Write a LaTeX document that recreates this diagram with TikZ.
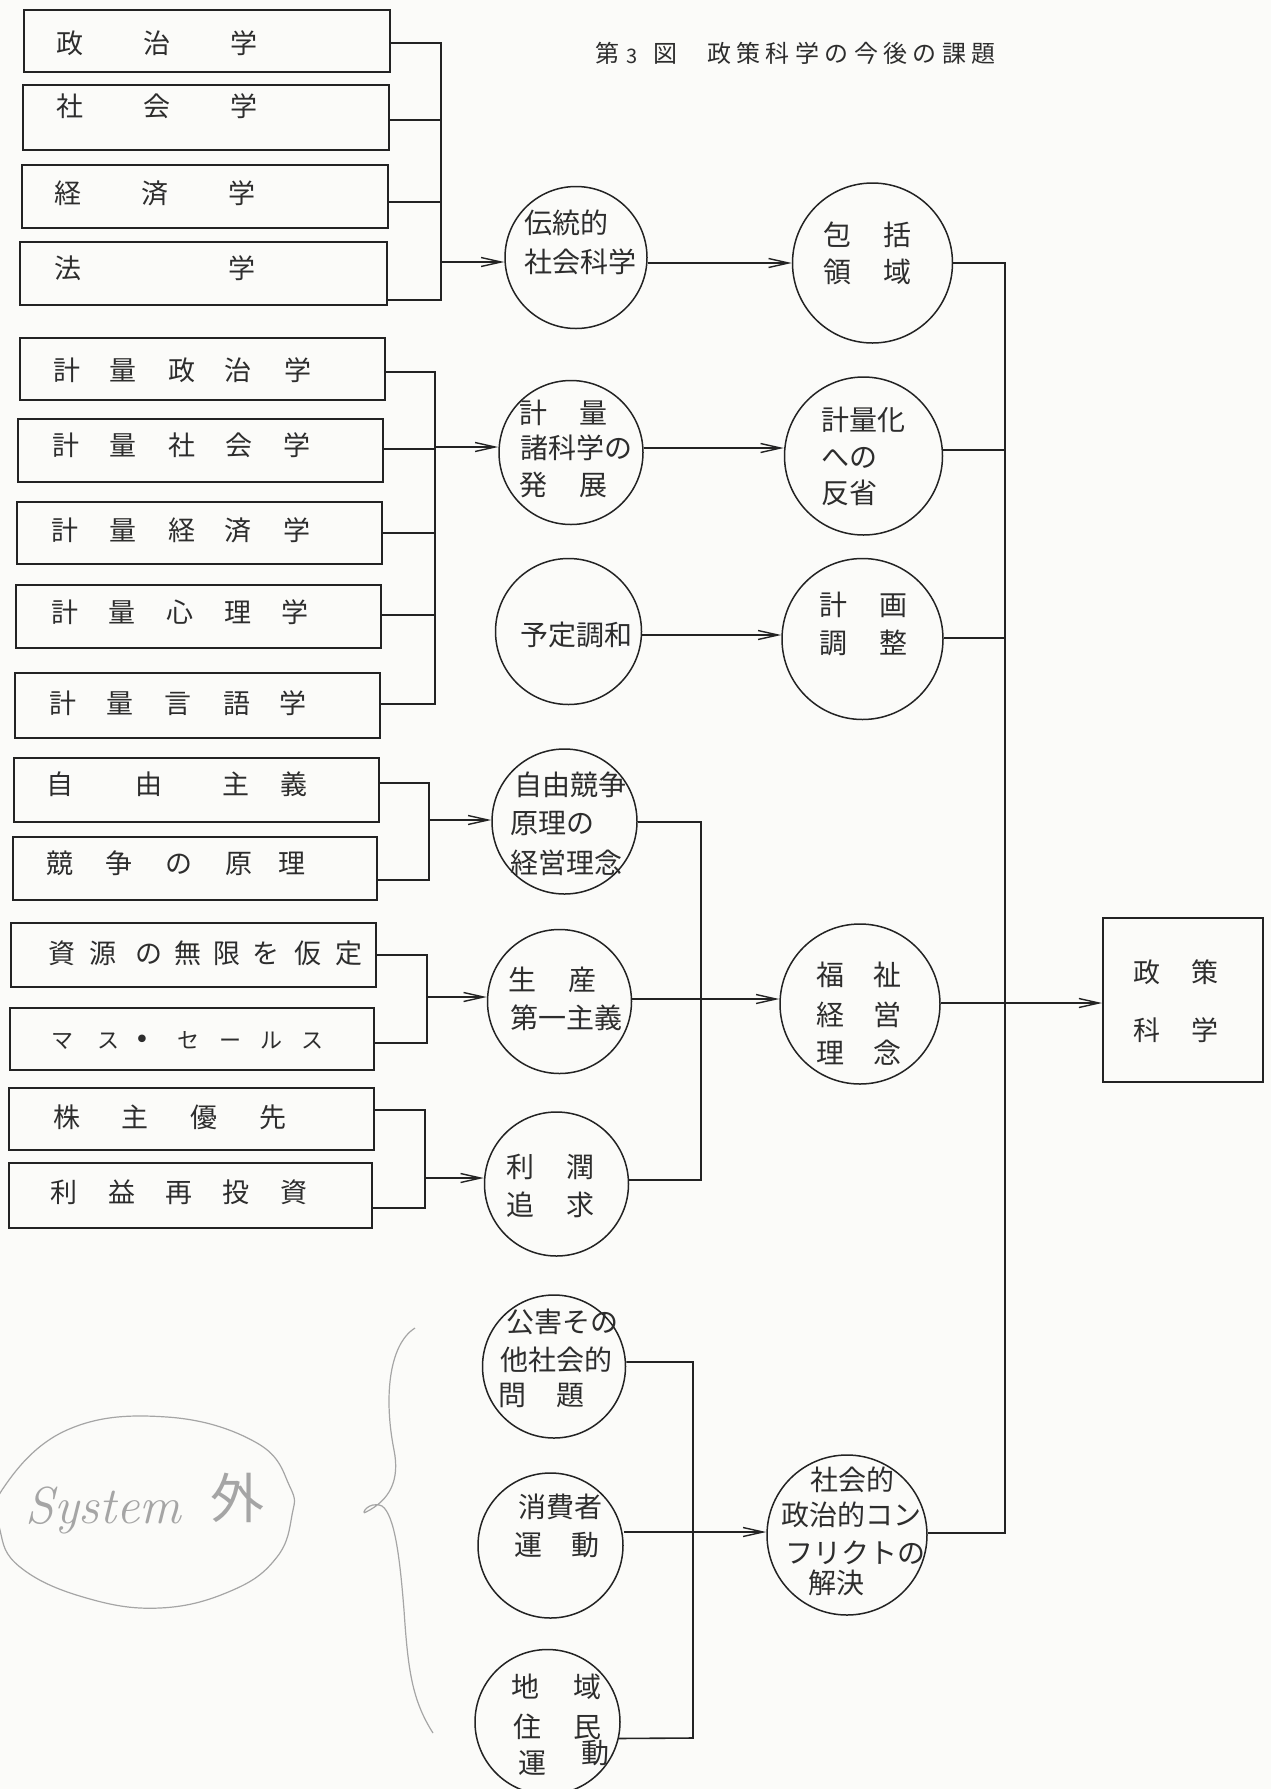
\documentclass[tikz,border=0pt]{standalone}
\usepackage{fontspec}
\newfontfamily\cjk{Noto Sans CJK JP}
\newfontfamily\djv{DejaVu Sans}
\usetikzlibrary{arrows.meta}
\definecolor{ink}{RGB}{35,35,35}
\definecolor{txtc}{RGB}{45,45,45}
\definecolor{pencil}{RGB}{165,165,165}
\definecolor{paper}{RGB}{251,251,249}
\tikzset{
  ln/.style={draw=ink, line width=0.8pt},
  ar/.style={ln, -{Straight Barb[length=10pt,width=4.5pt,line width=0.7pt]}},
  bx/.style={draw=ink, line width=0.9pt, rectangle, inner sep=0pt},
  cir/.style={draw=ink, line width=0.75pt, circle, inner sep=0pt},
  txt/.style={font=\cjk\fontsize{13.5pt}{16pt}\selectfont, inner sep=0pt, text height=11.2pt, text depth=0.95pt, text=txtc},
  ctx/.style={font=\cjk\fontsize{14pt}{16pt}\selectfont, inner sep=0pt, text height=11.6pt, text depth=1pt, text=txtc},
  txtk/.style={txt, font=\cjk\fontsize{11pt}{13pt}\selectfont, text height=9.1pt, text depth=0.8pt},
  ttl/.style={font=\cjk\fontsize{12pt}{14pt}\selectfont, inner sep=0pt, text height=10pt, text depth=0.85pt, text=txtc},
  hand/.style={draw=pencil, line width=0.6pt},
}
\newcommand\mkbox[5]{\node[bx, minimum width={(#4-#2)*0.5pt}, minimum height={(#5-#3)*0.5pt}] (#1) at ({(#2+#4)/2},{(#3+#5)/2}) {};}
\newcommand\mkcir[4]{\node[cir, minimum size={2*#4*0.5pt}] (#1) at (#2,#3) {};}
\newcommand\rowc[4][txt]{\foreach \xx/\cc [count=\kk] in {#4} {\node[#1] (#2-\kk) at (\xx,#3) {\cc};}}
\begin{document}
\begin{tikzpicture}[x=0.5pt,y=-0.5pt]
\fill[paper] (0,0) rectangle (1271,1789);
\useasboundingbox (0,0) rectangle (1271,1789);

% ---------- title ----------
\node[ttl] (tt1) at (607,53) {第};
\node[ttl, font=\cjk\fontsize{10pt}{12pt}\selectfont] (tt2) at (632,54) {3};
\node[ttl] (tt3) at (665,53) {図};
\rowc[ttl]{tt}{53}{719/政,748.4/策,777.8/科,807.2/学,836.6/の,866/今,895.4/後,924.8/の,954.2/課,983.6/題}

% ---------- boxes ----------
\mkbox{A1}{24}{10}{390}{72}
\mkbox{A2}{23}{85}{389}{150}
\mkbox{A3}{22}{165}{388}{228}
\mkbox{A4}{20}{242}{387}{305}
\mkbox{B1}{20}{338}{385}{400}
\mkbox{B2}{18}{419}{383}{482}
\mkbox{B3}{17}{502}{382}{564}
\mkbox{B4}{16}{585}{381}{648}
\mkbox{B5}{15}{673}{380}{738}
\mkbox{F1}{14}{758}{379}{822}
\mkbox{F2}{13}{837}{377}{900}
\mkbox{G1}{11}{923}{376}{987}
\mkbox{G2}{10}{1008}{374}{1070}
\mkbox{H1}{9}{1088}{374}{1150}
\mkbox{H2}{9}{1163}{372}{1228}
\mkbox{P}{1103}{918}{1263}{1082}

\rowc{tA1}{43}{70/政,157/治,244/学}
\rowc{tA2}{106}{70/社,157/会,244/学}
\rowc{tA3}{193}{68/経,155/済,242/学}
\rowc{tA4}{268}{68/法,242/学}
\rowc{tB1}{370}{67/計,123/量,182/政,238/治,298/学}
\rowc{tB2}{445}{66/計,123/量,182/社,239/会,297/学}
\rowc{tB3}{530}{65/計,123/量,182/経,238/済,297/学}
\rowc{tB4}{612}{65/計,122/量,180/心,238/理,295/学}
\rowc{tB5}{703}{63/計,120/量,178/言,237/語,293/学}
\rowc{tF1}{784}{60/自,149/由,236/主,294/義}
\rowc{tF2}{863}{60/競,119/争,179/の,239/原,292/理}
\rowc{tG1}{953}{62/資,103/源,149/の,188/無,227/限,266/を,308/仮,349/定}
\rowc[txtk]{tG2}{1040}{62/マ,108/ス,142/{\djv\fontsize{13pt}{14pt}\selectfont •},188/セ,230/ー,271/ル,312/ス}
\rowc{tH1}{1117}{67/株,135/主,204/優,273/先}
\rowc{tH2}{1192}{64/利,122/益,179/再,236/投,294/資}
\rowc{tP1}{972}{1147/政,1205/策}
\rowc{tP2}{1030}{1147/科,1205/学}

% ---------- circles ----------
\mkcir{C1}{576}{257.5}{71}
\mkcir{D1}{872.5}{263}{80}
\mkcir{C2}{571}{452.5}{72}
\mkcir{D2}{863.5}{456}{79}
\mkcir{C3}{568.5}{631.5}{73}
\mkcir{D3}{862.5}{639}{80.5}
\mkcir{C4}{564.5}{821.5}{72.5}
\mkcir{C5}{559.5}{1001.5}{72}
\mkcir{D4}{860}{1004}{80}
\mkcir{C6}{556.5}{1184}{72}
\mkcir{E1}{554}{1366.5}{71.5}
\mkcir{E2}{550.5}{1545.5}{72.5}
\mkcir{E3}{547.5}{1722}{72.5}
\mkcir{D5}{847}{1535}{80}

% circle texts
\node[ctx,anchor=west] (tC1a) at (524,223) {伝統的};
\node[ctx,anchor=west] (tC1b) at (524,262) {社会科学};
\rowc[ctx]{tD1a}{235}{837/包,897/括}
\rowc[ctx]{tD1b}{272}{837/領,897/域}
\rowc[ctx]{tC2a}{413}{533/計,593/量}
\node[ctx,anchor=west] (tC2b) at (520,448) {諸科学の};
\rowc[ctx]{tC2c}{485}{533/発,593/展}
\node[ctx,anchor=west] (tD2a) at (821,420) {計量化};
\node[ctx,anchor=west] (tD2b) at (821,457) {への};
\node[ctx,anchor=west] (tD2c) at (821,493) {反省};
\node[ctx,anchor=west] (tC3) at (520,635) {予定調和};
\rowc[ctx]{tD3a}{605}{833/計,893/画}
\rowc[ctx]{tD3b}{643}{833/調,893/整}
\node[ctx,anchor=west] (tC4a) at (514,785) {自由競争};
\node[ctx,anchor=west] (tC4b) at (510,823) {原理の};
\node[ctx,anchor=west] (tC4c) at (510,863) {経営理念};
\rowc[ctx]{tC5a}{980}{522/生,582/産}
\node[ctx,anchor=west] (tC5b) at (510,1018) {第一主義};
\rowc[ctx]{tD4a}{975}{830/福,887/祉}
\rowc[ctx]{tD4b}{1015}{830/経,887/営}
\rowc[ctx]{tD4c}{1053}{830/理,887/念}
\rowc[ctx]{tC6a}{1167}{520/利,580/潤}
\rowc[ctx]{tC6b}{1205}{520/追,580/求}
\node[ctx,anchor=west] (tE1a) at (506,1322) {公害その};
\node[ctx,anchor=west] (tE1b) at (500,1360) {他社会的};
\rowc[ctx]{tE1c}{1395}{512/問,570/題}
\node[ctx,anchor=west] (tE2a) at (518,1507) {消費者};
\rowc[ctx]{tE2b}{1545}{528/運,585/動}
\rowc[ctx]{tE3a}{1687}{525/地,587/域}
\rowc[ctx]{tE3b}{1727}{527/住,587/民}
\node[ctx] (tE3c) at (532,1763) {運};
\node[ctx] (tE3d) at (595,1753) {動};
\node[ctx,anchor=west] (tD5a) at (810,1480) {社会的};
\node[ctx,anchor=west] (tD5b) at (781,1515) {政治的コン};
\node[ctx,anchor=west] (tD5c) at (785,1553) {フリクトの};
\node[ctx,anchor=west] (tD5d) at (808,1583) {解決};

% ---------- junction points ----------
\coordinate (jA) at (441,262);
\coordinate (jB) at (435,447);
\coordinate (jC) at (429,820);
\coordinate (jD) at (427,997);
\coordinate (jE) at (425,1178);
\coordinate (jM) at (701,999);
\coordinate (jN) at (693,1532);
\coordinate (R1) at (1005,263);
\coordinate (R2) at (1005,1533);

% ---------- connectors ----------
\draw[ln] (A1.east |- 0,43) -| (jA |- 0,300) -- (A4.east |- 0,300);
\draw[ln] (A2.east |- 0,120) -- (jA |- 0,120);
\draw[ln] (A3.east |- 0,202) -- (jA |- 0,202);
\draw[ar] (jA) -- (C1.west |- jA);

\draw[ln] (B1.east |- 0,372) -| (jB |- 0,704) -- (B5.east |- 0,704);
\draw[ln] (B2.east |- 0,449) -- (jB |- 0,449);
\draw[ln] (B3.east |- 0,533) -- (jB |- 0,533);
\draw[ln] (B4.east |- 0,615) -- (jB |- 0,615);
\draw[ar] (jB) -- (C2.west |- jB);

\draw[ln] (F1.east |- 0,783) -| (jC |- 0,880) -- (F2.east |- 0,880);
\draw[ar] (jC) -- (C4.west |- jC);
\draw[ln] (G1.east |- 0,955) -| (jD |- 0,1043) -- (G2.east |- 0,1043);
\draw[ar] (jD) -- (C5.west |- jD);
\draw[ln] (H1.east |- 0,1110) -| (jE |- 0,1208) -- (H2.east |- 0,1208);
\draw[ar] (jE) -- (C6.west |- jE);

\draw[ar] (C1.east |- 0,263) -- (D1.west |- 0,263);
\draw[ar] (C2.east |- 0,448) -- (D2.west |- 0,448);
\draw[ar] (C3.east |- 0,635) -- (D3.west |- 0,635);

\draw[ln] (C4.east |- 0,822) -| (jM |- 0,1180) -- (C6.east |- 0,1180);
\draw[ar] (C5.east |- jM) -- (D4.west |- jM);

\draw[ln] (E1.east |- 0,1362) -| (jN |- 0,1738) -- (E3.-13);
\draw[ar] (E2.east |- jN) -- (D5.west |- jN);

\draw[ln] (D1.east |- R1) -- (R1) -- (R2) -- (D5.east |- R2);
\draw[ln] (D2.east |- 0,450) -- (R1 |- 0,450);
\draw[ln] (D3.east |- 0,638) -- (R1 |- 0,638);
\draw[ar] (D4.east |- 0,1003) -- (P.west |- 0,1003);

% ---------- pencil notes ----------
\draw[hand] plot[smooth cycle, tension=0.7] coordinates {(2,1490) (67,1430) (167,1417) (257,1443) (290,1487) (292,1515) (277,1557) (233,1590) (160,1608) (83,1597) (20,1567) (0,1530)};
\node[font=\fontsize{26pt}{30pt}\selectfont\itshape, text=pencil, anchor=base west, inner sep=0pt] (hw1) at (25,1523) {System};
\node[font=\cjk\fontsize{27pt}{30pt}\selectfont, text=pencil, inner sep=0pt] (hw2) at (237,1498) {外};
\draw[hand] (415,1328) .. controls (388,1345) and (384,1400) .. (394,1450)
  .. controls (400,1480) and (390,1500) .. (366,1512)
  .. controls (360,1516) and (368,1500) .. (382,1506)
  .. controls (395,1515) and (400,1560) .. (404,1610)
  .. controls (408,1670) and (412,1700) .. (433,1733);
\end{tikzpicture}
\end{document}
